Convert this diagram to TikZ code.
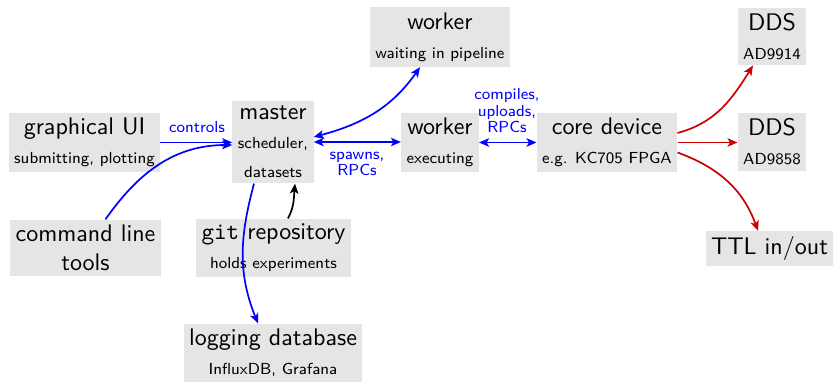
\documentclass[tikz,border=0pt]{standalone}
\usepackage{fontspec}
\setsansfont{lmsans10-regular.otf}
\setmonofont{lmmono10-regular.otf}
\newfontfamily\smallsans{lmsans8-regular.otf}
\usetikzlibrary{arrows.meta}
\definecolor{edgeblue}{RGB}{0,0,255}
\definecolor{edgered}{RGB}{204,0,0}
\definecolor{boxgray}{RGB}{229,229,229}
\newcommand\ttlf{\sffamily\fontsize{24}{29}\selectfont}
\newcommand\sbtf{\smallsans\fontsize{16}{29}\selectfont}
\begin{document}
\begin{tikzpicture}[x=1pt,y=1pt,
  >={Stealth[length=10pt,width=8.5pt,inset=2.5pt]},
  box/.style={fill=boxgray, inner sep=5.5pt, align=center, font=\sbtf},
  lbl/.style={text=edgeblue, align=center, font=\smallsans\fontsize{16}{16.5}\selectfont, inner sep=0pt},
  bl/.style={draw=edgeblue, line width=1.7pt},
  rd/.style={draw=edgered, line width=1.7pt, ->},
  bk/.style={draw=black, line width=1.7pt, ->}]
\useasboundingbox (0,0) rectangle (838,-382);
\node[box] (gui) at (84.5,-142.5) {{\ttlf graphical UI}\\submitting, plotting};
\node[box] (master) at (273,-142) {{\ttlf master}\\scheduler,\\datasets};
\node[box] (wwait) at (440,-37) {{\ttlf worker}\\waiting in pipeline};
\node[box] (wexec) at (440,-142.5) {{\ttlf worker}\\executing};
\node[box] (core) at (607,-142.5) {{\ttlf core device}\\e.g. KC705 FPGA};
\node[box] (dds1) at (772,-36.5) {{\ttlf DDS}\\AD9914};
\node[box] (dds2) at (772,-142) {{\ttlf DDS}\\AD9858};
\node[box] (ttl) at (769.5,-248.5) {{\ttlf TTL in/out}};
\node[box] (cmd) at (85.5,-248) {{\ttlf command line}\\{\ttlf tools}};
\node[box] (git) at (273.5,-248) {{\ttlf\texttt{git} repository}\\holds experiments};
\node[box] (log) at (273,-353) {{\ttlf logging database}\\InfluxDB, Grafana};

\node[lbl] (lcontrols) at (197,-127) {controls};
\node[lbl] (lspawns) at (357,-164) {spawns,\\RPCs};
\node[lbl] (lcompiles) at (507,-111) {compiles,\\uploads,\\RPCs};

\draw[bl,->] (gui.east) -- (gui.east -| master.west);
\draw[bl,->] ([xshift=20pt]cmd.north) to[out=55,in=180] ([yshift=-3pt]master.west);
\draw[bl,<->] (master.east) -- (master.east -| wexec.west);
\draw[bl,<->] ([yshift=5pt]master.east) to[out=15,in=-125] ([xshift=-20pt]wwait.south);
\draw[bl,<->] (wexec.east) -- (wexec.east -| core.west);
\draw[bl,->] ([xshift=-19pt]master.south) to[out=-105,in=112] ([xshift=-15pt]log.north);
\draw[bk] ([xshift=14.5pt]git.north) to[out=62,in=-95] ([xshift=22pt]master.south);
\draw[rd] ([yshift=9.5pt]core.east) to[out=15,in=-122] ([xshift=-19pt]dds1.south);
\draw[rd] (core.east) -- (core.east -| dds2.west);
\draw[rd] ([yshift=-10pt]core.east) to[out=-20,in=110] ([xshift=-11.5pt]ttl.north);
\end{tikzpicture}
\end{document}
